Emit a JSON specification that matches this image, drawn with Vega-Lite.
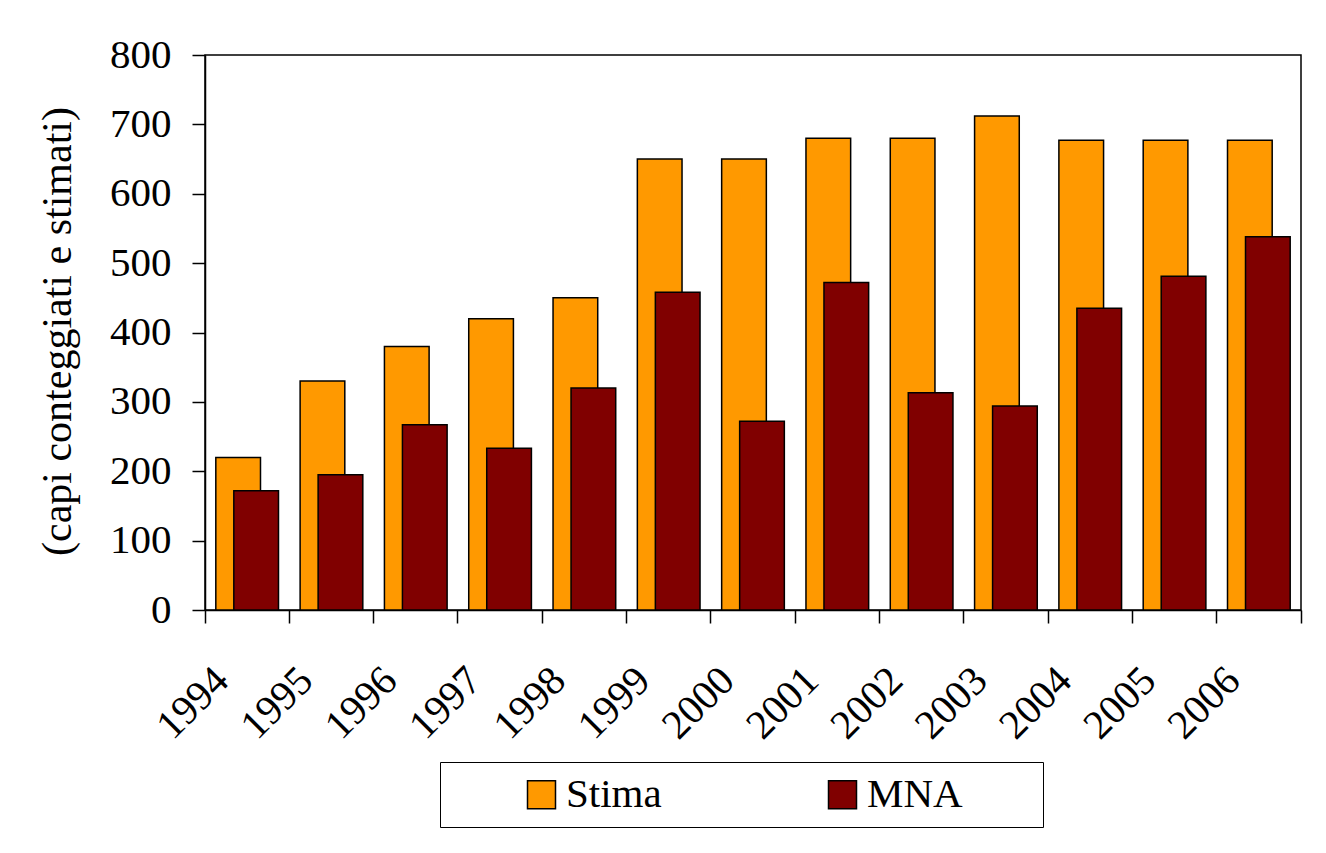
{
  "$schema": "https://vega.github.io/schema/vega-lite/v6.json",
  "width": 1096,
  "height": 555,
  "autosize": {"type": "none"},
  "padding": {"left": 205, "top": 55, "right": 25, "bottom": 243},
  "background": "white",
  "config": {
    "view": {"stroke": "black", "strokeWidth": 1.5},
    "font": "Liberation Serif"
  },
  "data": {
    "values": [
      {"year": "1994", "series": "Stima", "value": 220},
      {"year": "1995", "series": "Stima", "value": 330},
      {"year": "1996", "series": "Stima", "value": 380},
      {"year": "1997", "series": "Stima", "value": 420},
      {"year": "1998", "series": "Stima", "value": 450},
      {"year": "1999", "series": "Stima", "value": 650},
      {"year": "2000", "series": "Stima", "value": 650},
      {"year": "2001", "series": "Stima", "value": 680},
      {"year": "2002", "series": "Stima", "value": 680},
      {"year": "2003", "series": "Stima", "value": 712},
      {"year": "2004", "series": "Stima", "value": 677},
      {"year": "2005", "series": "Stima", "value": 677},
      {"year": "2006", "series": "Stima", "value": 677},
      {"year": "1994", "series": "MNA", "value": 172},
      {"year": "1995", "series": "MNA", "value": 195},
      {"year": "1996", "series": "MNA", "value": 267},
      {"year": "1997", "series": "MNA", "value": 233},
      {"year": "1998", "series": "MNA", "value": 320},
      {"year": "1999", "series": "MNA", "value": 458},
      {"year": "2000", "series": "MNA", "value": 272},
      {"year": "2001", "series": "MNA", "value": 472},
      {"year": "2002", "series": "MNA", "value": 313},
      {"year": "2003", "series": "MNA", "value": 294},
      {"year": "2004", "series": "MNA", "value": 435},
      {"year": "2005", "series": "MNA", "value": 481},
      {"year": "2006", "series": "MNA", "value": 538}
    ]
  },
  "encoding": {
    "x": {
      "field": "year",
      "type": "ordinal",
      "scale": {"paddingInner": 0, "paddingOuter": 0},
      "axis": {
        "title": null,
        "bandPosition": 1,
        "tickExtra": true,
        "labelAngle": -45,
        "labelAlign": "right",
        "labelBaseline": "middle",
        "labelOffset": -25,
        "labelPadding": 51,
        "labelFontSize": 41,
        "labelColor": "black",
        "labelFont": "Liberation Serif",
        "tickSize": 13,
        "tickColor": "black",
        "tickWidth": 1.5,
        "domainColor": "black",
        "domainWidth": 1.5
      }
    },
    "y": {
      "field": "value",
      "type": "quantitative",
      "scale": {"domain": [0, 800], "nice": false},
      "axis": {
        "values": [0, 100, 200, 300, 400, 500, 600, 700, 800],
        "grid": false,
        "title": "(capi conteggiati e stimati)",
        "titleFontSize": 42,
        "titleFontWeight": "normal",
        "titleColor": "black",
        "titleFont": "Liberation Serif",
        "titleAngle": -90,
        "titleX": -148,
        "titleY": 276,
        "titleAlign": "center",
        "titleBaseline": "middle",
        "labelFontSize": 41,
        "labelColor": "black",
        "labelFont": "Liberation Serif",
        "labelPadding": 21,
        "tickSize": 13,
        "tickColor": "black",
        "tickWidth": 1.5,
        "domainColor": "black",
        "domainWidth": 1.5
      }
    },
    "color": {
      "field": "series",
      "type": "nominal",
      "scale": {"domain": ["Stima", "MNA"], "range": ["#FF9900", "#800000"]},
      "legend": {
        "orient": "none",
        "legendX": 235,
        "legendY": 707,
        "direction": "horizontal",
        "title": "\u00a0",
        "titleOrient": "right",
        "titlePadding": 68,
        "titleFontSize": 41,
        "strokeColor": "black",
        "padding": 12,
        "symbolType": "square",
        "symbolSize": 784,
        "symbolStrokeColor": "black",
        "symbolStrokeWidth": 1.5,
        "symbolOpacity": 1,
        "symbolOffset": 69,
        "labelOffset": 4,
        "columnPadding": 91,
        "labelFontSize": 41,
        "labelColor": "black",
        "labelFont": "Liberation Serif"
      }
    }
  },
  "layer": [
    {
      "transform": [{"filter": "datum.series == 'Stima'"}],
      "mark": {"type": "bar", "width": {"band": 0.53}, "xOffset": -9, "stroke": "black", "strokeWidth": 1.5, "opacity": 1}
    },
    {
      "transform": [{"filter": "datum.series == 'MNA'"}],
      "mark": {"type": "bar", "width": {"band": 0.53}, "xOffset": 9, "stroke": "black", "strokeWidth": 1.5, "opacity": 1}
    }
  ]
}
